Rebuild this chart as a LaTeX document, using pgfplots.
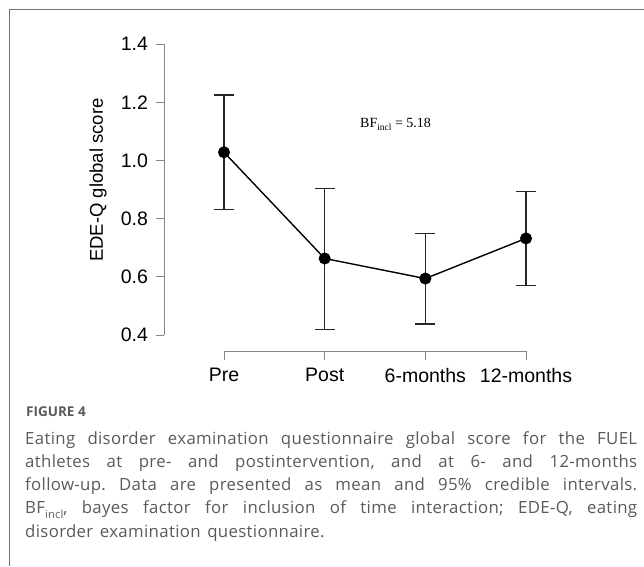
\documentclass[border=0pt]{standalone}
\usepackage{pgfplots}
\pgfplotsset{compat=1.18}
\usepackage{pgfplotstable}
\usepackage{fontspec}
\setmainfont{Liberation Sans}
\newfontfamily\capfont[WordSpace=1.4, LetterSpace=2]{Open Sans}
\newfontfamily\capfontb{Open Sans}
\newfontfamily\serifbf{Liberation Serif}
\definecolor{axgray}{HTML}{858585}
\definecolor{capgray}{HTML}{5A5A5A}
\definecolor{framegray}{HTML}{707070}
\frenchspacing
\pgfplotstableread{
x y ep em
0 1.028 0.197 0.196
1 0.663 0.240 0.245
2 0.594 0.156 0.156
3 0.732 0.160 0.162
}\edeq
\begin{document}
\begin{tikzpicture}[x=1pt,y=1pt]
\path[use as bounding box] (0,0) rectangle (644,-566);
\draw[framegray, line width=1pt] (9,-566) -- (9,-9) -- (644,-9);
\begin{axis}[
  at={(164pt,-351pt)}, anchor=south west,
  scale only axis, width=422.4pt, height=307pt,
  xmin=-0.596, xmax=3.6, ymin=0.345, ymax=1.4,
  axis line style={draw=none},
  tick pos=left, tick align=outside,
  major tick length=8.5pt,
  tick style={axgray, line width=0.9pt},
  xtick={0,1,2,3}, xticklabels={Pre,Post,6-months,12-months},
  ytick={0.4,0.6,0.8,1.0,1.2,1.4},
  yticklabel style={xshift=-4pt, /pgf/number format/.cd, fixed, fixed zerofill, precision=1},
  /pgf/number format/assume math mode=true,
  ticklabel style={font=\fontsize{19.5}{21}\selectfont, text=black},
  xticklabel style={yshift=-5pt},
  clip=false,
]
\draw[axgray, line width=0.9pt] (axis cs:0,0.345) -- (axis cs:3,0.345);
\draw[axgray, line width=0.9pt] (axis cs:-0.596,0.4) -- (axis cs:-0.596,1.4);
\addplot[black, line width=1.4pt, mark=*, mark size=5.3pt,
  error bars/.cd, y dir=both, y explicit,
  error bar style={line width=1.3pt, black!85},
  error mark options={rotate=90, mark size=10pt, line width=1.3pt, black!85}]
  table[x=x, y=y, y error plus=ep, y error minus=em] {\edeq};
\end{axis}
\node[rotate=90, font=\fontsize{18.5}{20}\selectfont] at (98,-180) {EDE-Q global score};
\node[anchor=base west, inner sep=0, font=\serifbf\fontsize{14}{16}\selectfont] at (360,-127)
  {BF\raisebox{-0.28em}{\fontsize{9.5}{10}\selectfont incl} = 5.18};
\node[anchor=base west, inner sep=0, text=capgray, font=\capfontb\bfseries\fontsize{13.5}{15}\selectfont] at (26,-416) {FIGURE 4};
\node[anchor=north west, inner sep=0, align=left, text=capgray, font=\capfont\fontsize{16.8}{23.3}\selectfont] at (25,-431) {%
\makebox[612pt][s]{Eating disorder examination questionnaire global score for the FUEL}\\
\makebox[612pt][s]{athletes at pre- and postintervention, and at 6- and 12-months}\\
\makebox[612pt][s]{follow-up. Data are presented as mean and 95\% credible intervals.}\\
\makebox[612pt][s]{BF\raisebox{-0.25em}{\fontsize{11}{11}\selectfont incl}, bayes factor for inclusion of time interaction; EDE-Q, eating}\\
disorder examination questionnaire.};
\end{tikzpicture}
\end{document}
